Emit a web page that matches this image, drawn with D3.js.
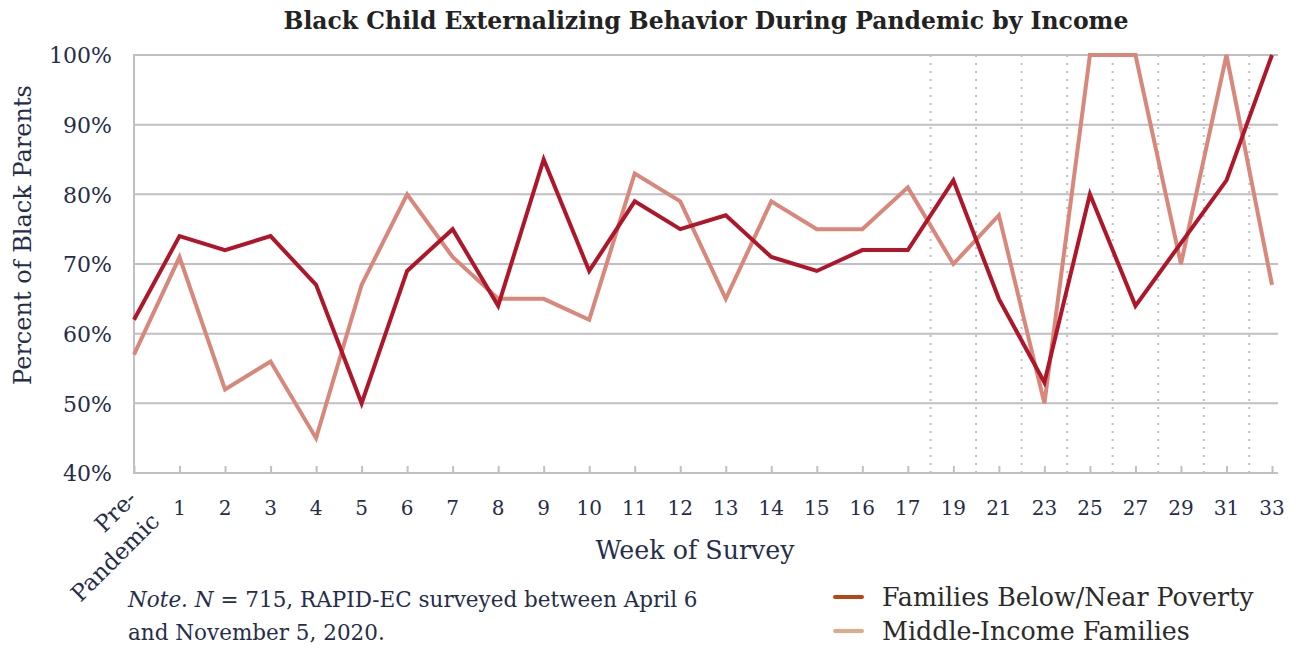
<!DOCTYPE html>
<html><head><meta charset="utf-8">
<script src="https://cdn.jsdelivr.net/npm/d3@7"></script>
<style>
html,body{margin:0;padding:0;background:#fff;}
svg{display:block;}
text{font-family:"DejaVu Serif","Liberation Serif",serif;}
</style></head>
<body>
<svg id="chart" width="1298" height="648"></svg>
<script>
const categories = ["Pre","1","2","3","4","5","6","7","8","9","10","11","12","13","14","15","16","17","19","21","23","25","27","29","31","33"];
const belowPoverty = [62,74,72,74,67,50,69,75,64,85,69,79,75,77,71,69,72,72,82,65,53,80,64,73,82,100];
const middleIncome = [57,71,52,56,45,67,80,71,65,65,62,83,79,65,79,75,75,81,70,77,50,100,100,70,100,67];
const yTicks = [40,50,60,70,80,90,100];
const seriesNames = ["Families Below/Near Poverty","Middle-Income Families"];
const title = "Black Child Externalizing Behavior During Pandemic by Income";
const noteLine2 = "and November 5, 2020.";

const svg = d3.select("#chart");
const pLeft = 134, pRight = 1272, gridRight = 1278, pTop = 55, pBottom = 473;
const navy = "#262d4a", gridColor = "#bfbfc4";
const darkColor = "#b01629", lightColor = "#d8877a";

const x = d3.scalePoint().domain(categories).range([pLeft, pRight]);
const y = d3.scaleLinear().domain([40,100]).range([pBottom, pTop]);

// gridlines
svg.append("g").selectAll("line").data(yTicks.filter(d=>d>40)).join("line")
  .attr("x1", pLeft).attr("x2", gridRight)
  .attr("y1", d=>y(d)).attr("y2", d=>y(d))
  .attr("stroke", gridColor).attr("stroke-width", 2);

// dotted separators between biweekly weeks
const startIdx = categories.indexOf("17");
const dividers = d3.range(startIdx, categories.length-1).map(i => (x(categories[i]) + x(categories[i+1]))/2);
svg.append("g").selectAll("line").data(dividers).join("line")
  .attr("x1", d=>d).attr("x2", d=>d).attr("y1", pTop).attr("y2", pBottom)
  .attr("stroke", gridColor).attr("stroke-width", 2).attr("stroke-dasharray", "2,6");

// y axis line
svg.append("line").attr("x1", pLeft).attr("x2", pLeft).attr("y1", pTop-1).attr("y2", pBottom)
  .attr("stroke", gridColor).attr("stroke-width", 2);

// x axis
const xAxis = d3.axisBottom(x).tickSizeInner(-7).tickSizeOuter(0).tickFormat(()=>"");
const gx = svg.append("g").attr("transform", `translate(0,${pBottom})`).call(xAxis);
gx.select(".domain").attr("stroke", gridColor).attr("stroke-width", 2).attr("d", `M${pLeft-1},0H${gridRight}`);
gx.selectAll(".tick line").attr("stroke", gridColor).attr("stroke-width", 2);

// x tick labels
svg.append("g").selectAll("text").data(categories.slice(1)).join("text")
  .attr("x", d=>x(d)).attr("y", 515)
  .attr("text-anchor", "middle").attr("font-size", 20).attr("fill", navy)
  .text(d=>d);
const pre = svg.append("text").attr("transform", `translate(138,500) rotate(-45)`)
  .attr("text-anchor", "end").attr("font-size", 23).attr("fill", navy);
pre.append("tspan").attr("x", 0).attr("y", 0).text("Pre-");
pre.append("tspan").attr("x", 0).attr("dy", "1.4em").text("Pandemic");

// y tick labels
const yAxis = d3.axisLeft(y).tickValues(yTicks).tickSize(0).tickFormat(d=>d+"%");
const gy = svg.append("g").attr("transform", `translate(${pLeft-19},0)`).call(yAxis);
gy.select(".domain").remove();
gy.selectAll("text").attr("font-size", 22).attr("fill", navy).attr("dy", "0.35em")
  .style("font-family", '"DejaVu Serif",serif');

// lines
const line = d3.line().x((d,i)=>x(categories[i])).y(d=>y(d)).curve(d3.curveLinear);
svg.append("path").datum(middleIncome).attr("d", line).attr("fill","none")
  .attr("stroke", lightColor).attr("stroke-width", 4).attr("stroke-linejoin","miter");
svg.append("path").datum(belowPoverty).attr("d", line).attr("fill","none")
  .attr("stroke", darkColor).attr("stroke-width", 4).attr("stroke-linejoin","miter");

// title
svg.append("text").attr("x", 706).attr("y", 29).attr("text-anchor","middle")
  .attr("font-size", 23.5).attr("font-weight","bold").attr("fill","#222")
  .text(title);

// axis titles
svg.append("text").attr("x", 695).attr("y", 559).attr("text-anchor","middle")
  .attr("font-size", 25.3).attr("fill", navy).text("Week of Survey");
svg.append("text").attr("transform", "translate(31,235) rotate(-90)").attr("text-anchor","middle")
  .attr("font-size", 24).attr("fill", navy).text("Percent of Black Parents");

// note
const note = svg.append("text").attr("x", 128).attr("y", 607).attr("font-size", 21.5).attr("fill", navy);
note.append("tspan").attr("font-style","italic").text("Note.");
note.append("tspan").text(" ");
note.append("tspan").attr("font-style","italic").text("N");
note.append("tspan").text(" = 715, RAPID-EC surveyed between April 6");
svg.append("text").attr("x", 128).attr("y", 640).attr("font-size", 21.5).attr("fill", navy).text(noteLine2);

// legend
const legendColors = ["#b5461a","#e0aa8a"];
const lg = svg.append("g").selectAll("g").data(seriesNames).join("g")
  .attr("transform", (d,i)=>`translate(835,${597 + i*34})`);
lg.append("line").attr("x1",0).attr("x2",27).attr("y1",0).attr("y2",0)
  .attr("stroke",(d,i)=>legendColors[i]).attr("stroke-width",4).attr("stroke-linecap","round");
lg.append("text").attr("x", 47).attr("y", 9).attr("font-size", 25.3).attr("fill","#2a2a2a").text(d=>d);
</script>
</body></html>
